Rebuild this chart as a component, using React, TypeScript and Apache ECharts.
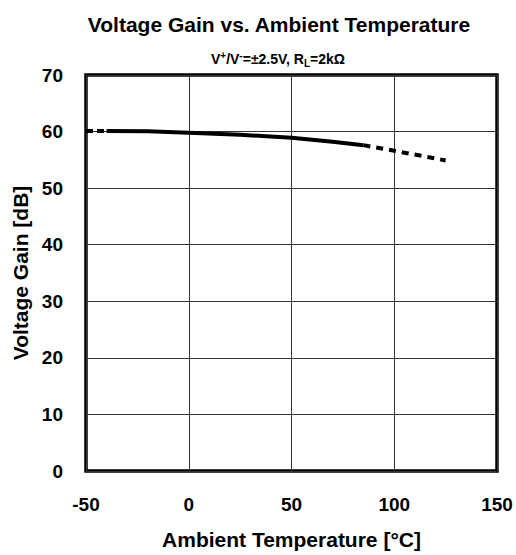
import React, { useEffect, useRef } from "react";
import * as echarts from "echarts";

const xTicks = [-50, 0, 50, 100, 150];
const yTicks = [0, 10, 20, 30, 40, 50, 60, 70];

const startTemps = [-50, -40];
const startGain = [60.1, 60.1];
const solidTemps = [-40, -20, 0, 25, 50, 70, 85];
const solidGain = [60.1, 60.05, 59.8, 59.45, 58.9, 58.2, 57.6];
const dashTemps = [85, 100, 112, 125];
const dashGain = [57.6, 56.6, 55.8, 54.9];

const zip = (xs: number[], ys: number[]) => xs.map((x, i) => [x, ys[i]]);

const FONT = "'Liberation Sans', Arial, sans-serif";

export default function App() {
  const ref = useRef<HTMLDivElement>(null);
  useEffect(() => {
    if (!ref.current) return;
    const chart = echarts.init(ref.current, undefined, { renderer: "svg" });
    chart.setOption({
      animation: false,
      backgroundColor: "#fff",
      title: [
        {
          text: "Voltage Gain vs. Ambient Temperature",
          left: 274,
          top: 9,
          textAlign: "center",
          textStyle: { fontFamily: FONT, fontWeight: "bold", fontSize: 21, color: "#000" },
        },
        {
          text: "V{sup|+}/V{sup|-}=±2.5V, R{sub|L}=2kΩ",
          left: 273,
          top: 45,
          textAlign: "center",
          textStyle: {
            fontFamily: FONT,
            fontWeight: "bold",
            fontSize: 14,
            color: "#000",
            lineHeight: 18,
            rich: {
              sup: { fontFamily: FONT, fontWeight: "bold", fontSize: 10, verticalAlign: "top", lineHeight: 18, color: "#000" },
              sub: { fontFamily: FONT, fontWeight: "bold", fontSize: 10, verticalAlign: "bottom", lineHeight: 14, color: "#000", padding: [8, 0, 0, 0] },
            },
          },
        },
      ],
      grid: {
        left: 86,
        right: 19,
        top: 75,
        bottom: 82,
        show: true,
        borderColor: "#000",
        borderWidth: 3.5,
        containLabel: false,
      },
      xAxis: {
        type: "value",
        min: -50,
        max: 150,
        interval: 50,
        name: "Ambient Temperature [°C]",
        nameLocation: "middle",
        nameGap: 58,
        nameTextStyle: { fontFamily: FONT, fontWeight: "bold", fontSize: 21, color: "#000" },
        axisLine: { show: false },
        axisTick: { show: false },
        axisLabel: {
          fontFamily: FONT,
          fontWeight: "bold",
          fontSize: 19,
          color: "#000",
          margin: 24,
          formatter: (v: number) => (xTicks.includes(v) ? String(v) : ""),
        },
        splitLine: { show: true, lineStyle: { color: "#333", width: 1 } },
      },
      yAxis: {
        type: "value",
        min: 0,
        max: 70,
        interval: 10,
        name: "Voltage Gain [dB]",
        nameLocation: "middle",
        nameGap: 54,
        nameTextStyle: { fontFamily: FONT, fontWeight: "bold", fontSize: 21, color: "#000" },
        axisLine: { show: false },
        axisTick: { show: false },
        axisLabel: {
          fontFamily: FONT,
          fontWeight: "bold",
          fontSize: 19,
          color: "#000",
          margin: 23,
          formatter: (v: number) => (yTicks.includes(v) ? String(v) : ""),
        },
        splitLine: { show: true, lineStyle: { color: "#333", width: 1 } },
      },
      series: [
        {
          type: "line",
          data: zip(startTemps, startGain),
          showSymbol: false,
          lineStyle: { color: "#000", width: 4, type: [7, 4] },
        },
        {
          type: "line",
          data: zip(solidTemps, solidGain),
          showSymbol: false,
          lineStyle: { color: "#000", width: 4 },
        },
        {
          type: "line",
          data: zip(dashTemps, dashGain),
          showSymbol: false,
          lineStyle: { color: "#000", width: 4, type: [7, 6] },
        },
      ],
    });
    return () => chart.dispose();
  }, []);
  return (
    <div
      ref={ref}
      style={{ position: "absolute", left: 0, top: 0, width: 516, height: 555 }}
    />
  );
}
